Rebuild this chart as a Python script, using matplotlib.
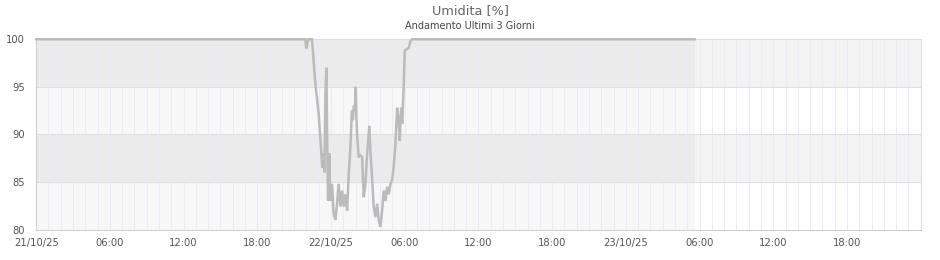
import matplotlib
matplotlib.use("Agg")
import matplotlib.pyplot as plt

# hours since 21/10/25 00:00
hours = [0.0, 21.91, 21.99, 22.15, 22.45, 22.72, 22.99, 23.19, 23.29, 23.37, 23.46,
         23.54, 23.62, 23.70, 23.76, 23.86, 23.94, 24.08, 24.21, 24.35, 24.49,
         24.62, 24.76, 24.90, 25.03, 25.17, 25.31, 25.44, 25.57, 25.70, 25.78,
         25.86, 25.94, 26.01, 26.06, 26.12, 26.25, 26.39, 26.53, 26.66, 26.80,
         26.94, 27.12, 27.20, 27.34, 27.47, 27.61, 27.75, 27.88, 28.02, 28.16,
         28.29, 28.43, 28.57, 28.70, 28.84, 28.97, 29.10, 29.24, 29.38, 29.51,
         29.59, 29.71, 29.79, 29.92, 30.00, 30.20, 30.33, 30.46, 30.60, 53.59]
humidity = [100, 100, 99.0, 100, 100, 95.4, 92.2, 88.4, 86.5, 88.0, 86.0,
            94.0, 97.0, 88.0, 83.0, 88.0, 83.0, 84.8, 81.7, 81.0, 82.7,
            84.8, 82.4, 84.1, 82.4, 83.7, 82.0, 85.8, 88.5, 92.5, 91.5,
            93.0, 92.5, 95.0, 92.0, 90.0, 87.6, 87.8, 87.6, 83.4, 84.8,
            88.0, 90.9, 88.3, 85.5, 82.4, 81.3, 82.7, 81.0, 80.3, 82.0,
            84.1, 83.0, 84.5, 83.7, 84.8, 85.2, 86.6, 89.0, 92.8, 91.4,
            89.3, 92.8, 91.1, 95.3, 98.8, 99.0, 99.1, 99.8, 100, 100]

tick_hours = [0, 6, 12, 18, 24, 30, 36, 42, 48, 54, 60, 66]
tick_labels = ["21/10/25", "06:00", "12:00", "18:00", "22/10/25", "06:00",
               "12:00", "18:00", "23/10/25", "06:00", "12:00", "18:00"]
y_ticks = [80, 85, 90, 95, 100]
title = "Umidita [%]"
subtitle = "Andamento Ultimi 3 Giorni"

fig = plt.figure(figsize=(9.4, 2.6), dpi=100)
ax = fig.add_axes([0.0385, 0.1173, 0.941, 0.7317])
ax.set_xlim(0, 72)
ax.set_ylim(80, 100)

# alternating bands
for lo in (85, 95):
    ax.axhspan(lo, lo + 5, color="#f3f3f3", zorder=0, lw=0)
# data-range overlay
ax.axvspan(0, hours[-1], color="black", alpha=0.03, zorder=0.5, lw=0)

ax.set_xticks(tick_hours)
ax.set_xticklabels(tick_labels)
ax.set_yticks(y_ticks)
for h in range(1, 72):
    ax.axvline(h, color="#eaeaf8", lw=0.72, zorder=1)
for y in (85, 90, 95):
    ax.axhline(y, color="#dddddd", lw=0.72, zorder=1)

ax.plot(hours, humidity, color="#bbbbbb", lw=1.8, zorder=3,
        solid_joinstyle="miter", clip_on=False)

for s in ax.spines.values():
    s.set_color("#dddddd")
    s.set_linewidth(0.72)
ax.spines["left"].set_color("#cccccc")
ax.spines["bottom"].set_color("#cccccc")

ax.tick_params(axis="both", which="both", length=0, labelsize=7.2, colors="#555555")
ax.tick_params(axis="y", pad=8)
ax.tick_params(axis="x", pad=6)

fig.text(0.5, 1 - 11 / 260, title, ha="center", va="center", fontsize=9.3, color="#666666")
fig.text(0.5, 1 - 26 / 260, subtitle, ha="center", va="center", fontsize=7, color="#444444")

fig.savefig("out.png", dpi=100)
